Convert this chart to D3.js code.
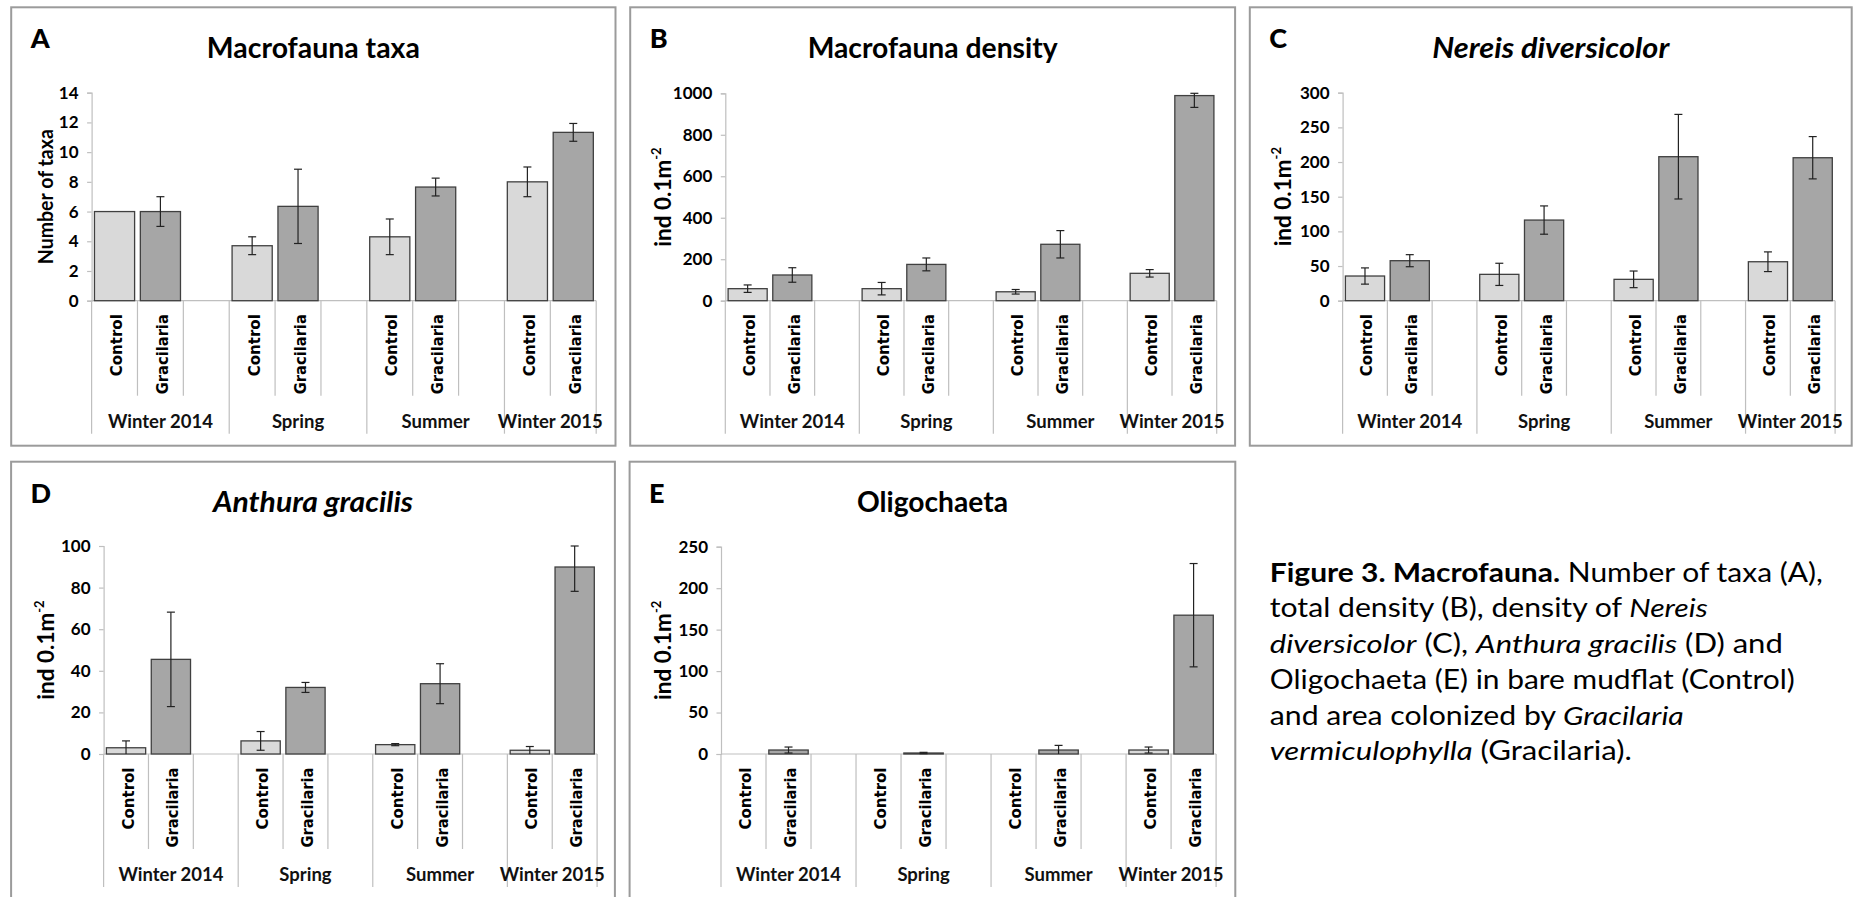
<!DOCTYPE html>
<html><head><meta charset="utf-8">
<script src="https://cdn.jsdelivr.net/npm/d3@7"></script>
<style>
body{margin:0;background:#fff;}
svg{display:block;}
</style>
</head><body>
<svg id="fig" width="1854" height="897"></svg>
<script>
// ---------- data ----------
const categories = ["Control","Gracilaria","","Control","Gracilaria","","Control","Gracilaria","","Control","Gracilaria"];
const seasons = ["Winter 2014","Spring","Summer","Winter 2015"];
const seasonStart = [0,3,6,9];
const seasonEnd = [3,6,9,11];

const taxaControl      = [6.0, 3.7, 4.3, 8.0];
const taxaControlErr   = [0, 0.6, 1.2, 1.0];
const taxaGracilaria   = [6.0, 6.35, 7.65, 11.33];
const taxaGracilariaErr= [1.0, 2.5, 0.6, 0.6];

const densControl      = [58, 58, 43, 132];
const densControlErr   = [18, 30, 11, 18];
const densGracilaria   = [124, 175, 272, 989];
const densGracilariaErr= [35, 31, 66, 57];

const nereisControl      = [35.6, 38, 30.8, 56.2];
const nereisControlErr   = [11.7, 16, 12, 14.2];
const nereisGracilaria   = [57.7, 116.3, 207.7, 206.2];
const nereisGracilariaErr= [8.7, 20.4, 61, 30.5];

const anthuraControl      = [3.0, 6.3, 4.5, 1.8];
const anthuraControlErr   = [3.3, 4.5, 0.5, 1.8];
const anthuraGracilaria   = [45.5, 32.0, 33.8, 89.9];
const anthuraGracilariaErr= [22.7, 2.4, 9.6, 11.7];

const oligoControl      = [0, 0, 0, 4.8];
const oligoControlErr   = [0, 0, 0, 3.6];
const oligoGracilaria   = [4.8, 1.2, 4.8, 167.4];
const oligoGracilariaErr= [3.6, 0.8, 5.6, 62.3];

const ticksA = [0,2,4,6,8,10,12,14];
const ticksB = [0,200,400,600,800,1000];
const ticksC = [0,50,100,150,200,250,300];
const ticksD = [0,20,40,60,80,100];
const ticksE = [0,50,100,150,200,250];

const titles = ["Macrofauna taxa","Macrofauna density","Nereis diversicolor","Anthura gracilis","Oligochaeta"];
const letters = ["A","B","C","D","E"];

// ---------- layout ----------
const panels = [
  {ctrl:taxaControl, ctrlE:taxaControlErr, grac:taxaGracilaria, gracE:taxaGracilariaErr, ticks:ticksA,
   box:[11.2,7.3,615.5,445.7], ax:91.6, xe:596.2, yt:92.7, yb:300.7, tb:58.3, tl:213, it:false, ylab:"Number of taxa", yoff:39},
  {ctrl:densControl, ctrlE:densControlErr, grac:densGracilaria, gracE:densGracilariaErr, ticks:ticksB,
   box:[630.2,7.3,1235.1,445.7], ax:725.3, xe:1216.7, yt:93.3, yb:300.7, tb:58.3, tl:250, it:false, ylab:"ind", yoff:54},
  {ctrl:nereisControl, ctrlE:nereisControlErr, grac:nereisGracilaria, gracE:nereisGracilariaErr, ticks:ticksC,
   box:[1249.8,7.3,1851.7,445.7], ax:1342.6, xe:1835.1, yt:92.7, yb:300.7, tb:58.3, tl:237, it:true, ylab:"ind", yoff:52},
  {ctrl:anthuraControl, ctrlE:anthuraControlErr, grac:anthuraGracilaria, gracE:anthuraGracilariaErr, ticks:ticksD,
   box:[11.1,461.7,614.9,910], ax:103.6, xe:597.1, yt:546, yb:754, tb:512, tl:200, it:true, ylab:"ind", yoff:50},
  {ctrl:oligoControl, ctrlE:oligoControlErr, grac:oligoGracilaria, gracE:oligoGracilariaErr, ticks:ticksE,
   box:[629.6,461.7,1235.3,910], ax:721, xe:1216.1, yt:546.7, yb:754, tb:512, tl:151, it:false, ylab:"ind", yoff:50}
];

const svg = d3.select("#fig");
svg.append("rect").attr("width",1854).attr("height",897).attr("fill","#fff");

const LINE = "#bfbfbf";
const SANS = "Lato, 'Open Sans', sans-serif";

panels.forEach((p, pi) => {
  const g = svg.append("g");
  const [x0,y0,x1,y1] = p.box;
  g.append("rect").attr("x",x0).attr("y",y0).attr("width",x1-x0).attr("height",y1-y0)
    .attr("fill","none").attr("stroke","#9b9b9b").attr("stroke-width",2);

  // letter
  g.append("text").attr("x",x0+19.5).attr("y",y0+41)
    .attr("font-family",SANS).attr("font-weight",900).attr("font-size",27).attr("fill","#000")
    .text(letters[pi]);
  // title
  g.append("text").attr("x",(x0+x1)/2).attr("y",p.tb).attr("text-anchor","middle")
    .attr("font-family",SANS).attr("font-weight",700).attr("font-size",28)
    .attr("font-style",p.it?"italic":"normal").attr("fill","#000")
    .attr("textLength",p.tl).attr("lengthAdjust","spacingAndGlyphs")
    .text(titles[pi]);

  const x = d3.scaleBand().domain(d3.range(categories.length)).range([p.ax,p.xe])
    .paddingInner(0.125).paddingOuter(0.0625);
  const step = x.step();
  const ymax = p.ticks[p.ticks.length-1];
  const y = d3.scaleLinear().domain([0,ymax]).range([p.yb,p.yt]);

  // y axis
  const yAxis = d3.axisLeft(y).tickValues(p.ticks).tickFormat(d3.format("d")).tickSize(4.5).tickPadding(8.5);
  const ya = g.append("g").attr("transform",`translate(${p.ax},0)`).call(yAxis);
  ya.select(".domain").attr("stroke",LINE).attr("stroke-width",1.2);
  ya.selectAll(".tick line").attr("stroke",LINE).attr("stroke-width",1.2);
  ya.selectAll(".tick text").attr("font-family",SANS).attr("font-weight",700)
    .attr("font-size",17).attr("fill","#000");

  // y title
  const yc = (p.yt+p.yb)/2;
  const yt = g.append("text").attr("transform",`translate(${p.ax-p.yoff},${yc}) rotate(-90)`)
    .attr("text-anchor","middle").attr("font-family",SANS).attr("font-weight",700).attr("fill","#000");
  if (p.ylab === "Number of taxa") {
    yt.attr("font-size",21).attr("textLength",135).attr("lengthAdjust","spacingAndGlyphs").text("Number of taxa");
  } else {
    yt.attr("font-size",22.5);
    yt.append("tspan").text("ind 0.1m");
    yt.append("tspan").attr("font-size",13).attr("dy",-10).text("-2");
  }

  // x axis line
  g.append("line").attr("x1",p.ax).attr("x2",p.xe).attr("y1",p.yb).attr("y2",p.yb)
    .attr("stroke",LINE).attr("stroke-width",1.2);
  // separators
  for (let i=0;i<=categories.length;i++){
    const xx = p.ax + i*step;
    const long = seasonStart.includes(i) || i===categories.length;
    g.append("line").attr("x1",xx).attr("x2",xx).attr("y1",p.yb)
      .attr("y2",p.yb + (long?133:95)).attr("stroke",LINE).attr("stroke-width",1.2);
  }
  // category labels
  categories.forEach((c,i)=>{
    if(!c) return;
    const cx = x(i) + x.bandwidth()/2 + 7.5;
    g.append("text").attr("transform",`translate(${cx},${p.yb+13.5}) rotate(-90)`)
      .attr("text-anchor","end").attr("font-family","'DejaVu Sans', Verdana, sans-serif")
      .attr("font-weight",700).attr("font-size",16.5).attr("fill","#000")
      .attr("textLength", c==="Control"?62:80).attr("lengthAdjust","spacingAndGlyphs")
      .text(c);
  });
  // season labels
  seasons.forEach((s,si)=>{
    const cx = p.ax + (seasonStart[si]+seasonEnd[si])/2*step;
    g.append("text").attr("x",cx).attr("y",p.yb+127).attr("text-anchor","middle")
      .attr("font-family",SANS).attr("font-weight",700).attr("font-size",18.5).attr("fill","#111")
      .text(s);
  });

  // bars
  const rows = [];
  seasons.forEach((s,si)=>{
    rows.push({i:seasonStart[si], v:p.ctrl[si], e:p.ctrlE[si], fill:"#d9d9d9"});
    rows.push({i:seasonStart[si]+1, v:p.grac[si], e:p.gracE[si], fill:"#a6a6a6"});
  });
  g.selectAll("rect.bar").data(rows.filter(d=>d.v>0)).enter().append("rect").attr("class","bar")
    .attr("x",d=>x(d.i)).attr("width",x.bandwidth())
    .attr("y",d=>y(d.v)).attr("height",d=>y(0)-y(d.v))
    .attr("fill",d=>d.fill).attr("stroke","#404040").attr("stroke-width",1.3);
  // error bars (clipped to the plot area, as in the source)
  rows.filter(d=>d.e>0).forEach(d=>{
    const cx = x(d.i)+x.bandwidth()/2;
    const topV = Math.min(ymax, d.v+d.e), botV = Math.max(0, d.v-d.e);
    const hi = y(topV), lo = y(botV);
    const eg = g.append("g").attr("stroke","#222").attr("stroke-width",1.2);
    eg.append("line").attr("x1",cx).attr("x2",cx).attr("y1",hi).attr("y2",lo);
    eg.append("line").attr("x1",cx-4).attr("x2",cx+4).attr("y1",hi).attr("y2",hi);
    if (botV>0) eg.append("line").attr("x1",cx-4).attr("x2",cx+4).attr("y1",lo).attr("y2",lo);
  });
});

// ---------- caption ----------
const captionLines = [
  [["Figure 3. Macrofauna.","b"],[" Number of taxa (A),",""]],
  [["total density (B), density of ",""],["Nereis","i"]],
  [["diversicolor","i"],[" (C), ",""],["Anthura gracilis","i"],[" (D) and",""]],
  [["Oligochaeta (E) in bare mudflat (Control)",""]],
  [["and area colonized by ",""],["Gracilaria","i"]],
  [["vermiculophylla","i"],[" (Gracilaria).",""]]
];
const captionWidths = [553, 438, 513, 525, 414, 362];
captionLines.forEach((ln,li)=>{
  const t = svg.append("text").attr("x",1269.8).attr("y",581.7+li*35.7)
    .attr("font-family",SANS).attr("font-size",26).attr("fill","#000")
    .attr("textLength",captionWidths[li]).attr("lengthAdjust","spacingAndGlyphs");
  ln.forEach(([s,st])=>{
    const ts = t.append("tspan").text(s);
    if(st==="b") ts.attr("font-weight",700);
    if(st==="i") ts.attr("font-style","italic");
  });
});
</script>
</body></html>
